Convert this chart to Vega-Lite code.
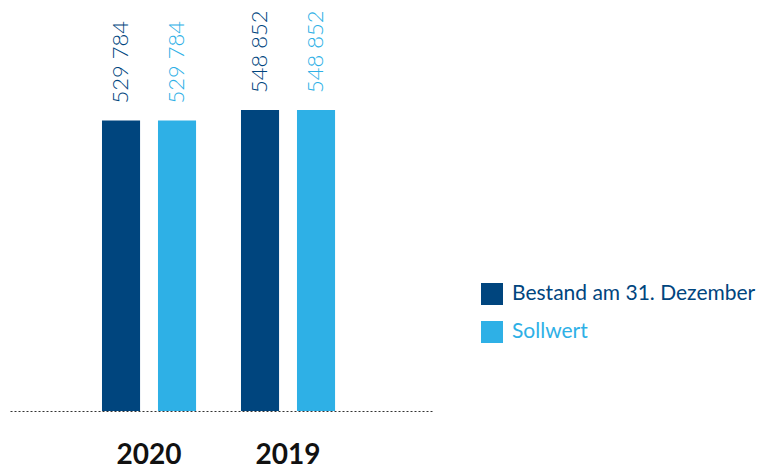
{
  "$schema": "https://vega.github.io/schema/vega-lite/v6.json",
  "width": 424,
  "height": 411,
  "autosize": "none",
  "padding": {"left": 10, "top": 0, "right": 323, "bottom": 57},
  "background": "white",
  "config": {
    "view": {"stroke": null},
    "font": "Lato",
    "locale": {"number": {"decimal": ",", "thousands": " ", "grouping": [3], "currency": ["", " €"]}}
  },
  "data": {
    "values": [
      {"year": "2020", "series": "Bestand am 31. Dezember", "value": 529784},
      {"year": "2020", "series": "Sollwert", "value": 529784},
      {"year": "2019", "series": "Bestand am 31. Dezember", "value": 548852},
      {"year": "2019", "series": "Sollwert", "value": 548852}
    ]
  },
  "encoding": {
    "x": {
      "field": "year", "type": "nominal", "sort": ["2020", "2019"],
      "scale": {"paddingInner": 0.2, "paddingOuter": 0.6252, "align": 0.48},
      "axis": {
        "title": null, "ticks": false, "domainDash": [2, 2], "domainColor": "#333333", "domainWidth": 1,
        "labelAngle": 0, "labelFont": "Lato", "labelFontWeight": 700, "labelFontSize": 28,
        "labelColor": "#111111", "labelPadding": 30
      }
    },
    "xOffset": {
      "field": "series", "type": "nominal", "sort": ["Bestand am 31. Dezember", "Sollwert"],
      "scale": {"paddingInner": 0.32, "paddingOuter": 0.153}
    },
    "y": {
      "field": "value", "type": "quantitative",
      "scale": {"domain": [0, 749430], "nice": false, "zero": true},
      "axis": null
    },
    "color": {
      "field": "series", "type": "nominal", "sort": ["Bestand am 31. Dezember", "Sollwert"],
      "scale": {"domain": ["Bestand am 31. Dezember", "Sollwert"], "range": ["#00457E", "#2EB0E6"]},
      "legend": {
        "title": null, "orient": "none", "legendX": 471, "legendY": 283,
        "symbolType": "square", "symbolSize": 484, "symbolStrokeWidth": 0, "symbolOpacity": 1,
        "labelFont": "Lato", "labelFontSize": 21, "labelOffset": 9, "rowPadding": 16,
        "labelLimit": 400,
        "encode": {
          "labels": {"update": {"fill": {"signal": "datum.value === 'Sollwert' ? '#2EB0E6' : '#00457E'"}}}
        }
      }
    }
  },
  "layer": [
    {"mark": {"type": "bar", "zindex": 1}},
    {
      "mark": {"type": "text", "angle": 270, "align": "left", "baseline": "middle", "dx": 17, "font": "Lato", "fontWeight": 300, "fontSize": 22},
      "encoding": {"text": {"field": "value", "type": "quantitative", "format": ",d"}}
    }
  ]
}
